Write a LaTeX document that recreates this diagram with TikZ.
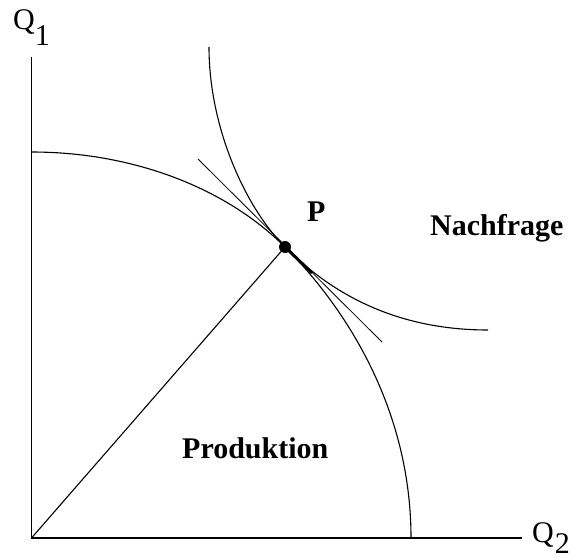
\documentclass[tikz,border=0pt]{standalone}
\usepackage{fontspec}
\setmainfont{Liberation Serif}
\begin{document}
\begin{tikzpicture}[x=1pt,y=-1pt,
  curveline/.style={line width=1.1pt, black},
  tangline/.style={line width=0.8pt, black},
  axisline/.style={line width=1.5pt, black},
  boldseg/.style={line width=3pt, black},
  lbl/.style={anchor=base west, inner sep=0pt, font=\fontsize{30}{36}\selectfont\bfseries},
  axlbl/.style={anchor=base west, inner sep=0pt, font=\fontsize{30}{36}\selectfont}]
\useasboundingbox (0,0) rectangle (577,559);
% key points
\coordinate (O) at (31.5,538);
\coordinate (Ytop) at (31.5,57);
\coordinate (Xend) at (522,538);
\coordinate (P) at (285,247);
\coordinate (ProdA) at (31.5,152);
\coordinate (ProdB) at (411,538);
\coordinate (DemA) at (209,47);
\coordinate (DemB) at (488,330);
\coordinate (TanA) at (198,159);
\coordinate (TanB) at (382,342);
\coordinate (SegEnd) at (312,273);
% axes
\draw[axisline] (Ytop) -- (O) -- (Xend);
% production curve
\draw[curveline] (ProdA) .. controls (131.5,152) and (225,187) .. (P)
  .. controls (345,307) and (411,408) .. (ProdB);
% demand curve
\draw[curveline] (DemA) .. controls (209,127) and (245,207) .. (P)
  .. controls (325,287) and (388,330) .. (DemB);
% tangent line
\draw[tangline] (TanA) -- (TanB);
% ray from origin
\draw[curveline] (O) -- (P);
% bold segment and point
\draw[boldseg] (P) -- (SegEnd);
\fill (P) circle (6pt);
% labels
\node[axlbl] (q1) at (13,30) {Q\raisebox{-16pt}{1}};
\node[axlbl] (q2) at (532,542) {Q\kern1pt\raisebox{-11pt}{2}};
\node[lbl] (plab) at (307,221) {P};
\node[lbl] (nach) at (430,235) {Nachfrage};
\node[lbl] (prod) at (182,458) {Produktion};
\end{tikzpicture}
\end{document}
